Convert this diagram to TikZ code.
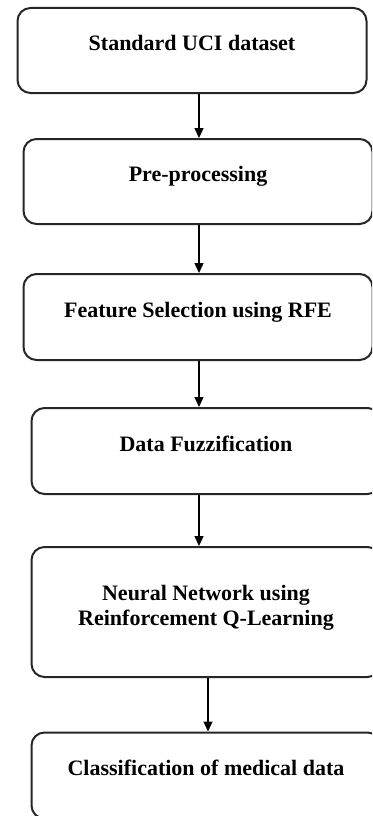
\documentclass[tikz,border=0pt]{standalone}
\usepackage{fontspec}
\setmainfont{Liberation Serif}
\usepackage{tikz}
\usetikzlibrary{arrows.meta,positioning}

\begin{document}
\begin{tikzpicture}[x=1pt, y=-1pt, auto, line width=2pt]
   \useasboundingbox (0,0) rectangle (372,816);
   \clip (0,0) rectangle (372,816);
   \begin{scope}[every node/.style={rectangle,rounded corners=13pt,draw=black!85,
      minimum width=349pt,align=center,text height=16pt,text depth=16pt,
      font=\bfseries\fontsize{22}{25}\selectfont}]
    \node (b1) [minimum height=85pt] at (192,50.5) {Standard UCI dataset};
    \node (b2) [minimum height=85pt] at (198,181.5) {Pre-processing};
    \node (b3) [minimum height=86pt] at (198,317) {Feature Selection using RFE};
    \node (b4) [minimum height=86pt] at (206,451) {Data Fuzzification};
    \node (b5) [minimum height=130pt,text height=42pt] at (206,612) {Neural Network using\\Reinforcement Q-Learning};
    \node (b6) [minimum height=86pt] at (206,775.5) {Classification of medical data};
   \end{scope}
   \begin{scope}[->,>={Triangle[width=9pt,length=10pt]},line width=1.3pt]
    \draw ([xshift=7pt]b1.south) -- ([xshift=1pt]b2.north);
    \draw ([xshift=1pt]b2.south) -- ([xshift=1pt]b3.north);
    \draw ([xshift=1pt]b3.south) -- ([xshift=-7pt]b4.north);
    \draw ([xshift=-7pt]b4.south) -- ([xshift=-7pt]b5.north);
    \draw ([xshift=2pt]b5.south) -- ([xshift=2pt]b6.north);
   \end{scope}
\end{tikzpicture}
\end{document}
